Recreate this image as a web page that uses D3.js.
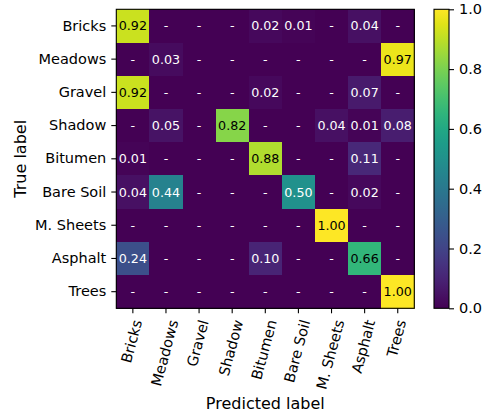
<!DOCTYPE html>
<html>
<head>
<meta charset="utf-8">
<script src="https://cdn.jsdelivr.net/npm/d3@7"></script>
<style>
  body { margin: 0; background: #fff; }
  svg text { font-family: "DejaVu Sans", sans-serif; }
</style>
</head>
<body>
<svg width="484" height="416"></svg>
<script>
// class names, same order on both axes
var classes = ["Bricks", "Meadows", "Gravel", "Shadow", "Bitumen", "Bare Soil", "M. Sheets", "Asphalt", "Trees"];

// one row per true label, columns are predicted labels
var rowBricks   = [0.92, 0, 0, 0, 0.02, 0.01, 0, 0.04, 0];
var rowMeadows  = [0, 0.03, 0, 0, 0, 0, 0, 0, 0.97];
var rowGravel   = [0.92, 0, 0, 0, 0.02, 0, 0, 0.07, 0];
var rowShadow   = [0, 0.05, 0, 0.82, 0, 0, 0.04, 0.01, 0.08];
var rowBitumen  = [0.01, 0, 0, 0, 0.88, 0, 0, 0.11, 0];
var rowBareSoil = [0.04, 0.44, 0, 0, 0, 0.50, 0, 0.02, 0];
var rowSheets   = [0, 0, 0, 0, 0, 0, 1.00, 0, 0];
var rowAsphalt  = [0.24, 0, 0, 0, 0.10, 0, 0, 0.66, 0];
var rowTrees    = [0, 0, 0, 0, 0, 0, 0, 0, 1.00];

var cbTicks = [0, 0.2, 0.4, 0.6, 0.8, 1.0];

var rows = [rowBricks, rowMeadows, rowGravel, rowShadow, rowBitumen, rowBareSoil, rowSheets, rowAsphalt, rowTrees];
var cells = [];
rows.forEach(function(r, i){
  r.forEach(function(v, j){ cells.push({t: classes[i], p: classes[j], v: v}); });
});

var svg = d3.select("svg");
var pL = 116.3, pR = 414.3, pT = 9.3, pB = 308.3;

var x = d3.scaleBand().domain(classes).range([pL, pR]);
var y = d3.scaleBand().domain(classes).range([pT, pB]);
var color = d3.scaleSequential(d3.interpolateViridis).domain([0, 1]);

svg.append("g").selectAll("rect")
  .data(cells)
  .enter()
  .append("rect")
  .attr("x", function(d){ return x(d.p); })
  .attr("y", function(d){ return y(d.t); })
  .attr("width", x.bandwidth() + 0.5)
  .attr("height", y.bandwidth() + 0.5)
  .attr("shape-rendering", "crispEdges")
  .attr("fill", function(d){ return color(d.v); });

svg.append("g").selectAll("text")
  .data(cells)
  .enter()
  .append("text")
  .attr("x", function(d){ return x(d.p) + x.bandwidth()/2; })
  .attr("y", function(d){ return y(d.t) + y.bandwidth()/2; })
  .attr("dy", "0.36em")
  .attr("text-anchor", "middle")
  .attr("font-size", "12.7px")
  .attr("fill", function(d){ return d.v > 0.5 ? "#000" : "#fff"; })
  .text(function(d){ return d.v == 0 ? "-" : d3.format(".2f")(d.v); });

svg.append("rect")
  .attr("x", pL).attr("y", pT)
  .attr("width", pR - pL).attr("height", pB - pT)
  .attr("fill", "none").attr("stroke", "#000").attr("stroke-width", 1.1);

// y axis
var ya = svg.append("g")
  .attr("transform", "translate(" + pL + ",0)")
  .call(d3.axisLeft(y).tickSize(5).tickPadding(5));
ya.select(".domain").remove();
ya.selectAll("line").attr("stroke-width", 1.1);
ya.selectAll("text").attr("font-size", "14.5px").attr("font-family", "DejaVu Sans");

// x axis with rotated labels, bbox centred under tick
var xa = svg.append("g")
  .attr("transform", "translate(0," + pB + ")")
  .call(d3.axisBottom(x).tickSize(5).tickPadding(5));
xa.select(".domain").remove();
xa.selectAll("line").attr("stroke-width", 1.1);
var ang = 75 * Math.PI / 180;
xa.selectAll("text")
  .attr("font-size", "14.5px")
  .attr("font-family", "DejaVu Sans")
  .attr("text-anchor", "middle")
  .attr("dy", "0.26em")
  .each(function(d){
    var w = this.getComputedTextLength();
    var h = 14.5 * 1.17;
    var bh = w * Math.sin(ang) + h * Math.cos(ang);
    d3.select(this)
      .attr("x", 0).attr("y", 0)
      .attr("transform", "translate(0," + (10 + bh/2) + ") rotate(-75)");
  });

svg.append("text")
  .attr("x", (pL + pR)/2).attr("y", 409)
  .attr("text-anchor", "middle").attr("font-size", "16px")
  .text("Predicted label");

svg.append("text")
  .attr("transform", "translate(26," + (pT + pB)/2 + ") rotate(-90)")
  .attr("text-anchor", "middle").attr("font-size", "16px")
  .text("True label");

// colorbar
var cbL = 434, cbW = 15;
var grad = svg.append("defs").append("linearGradient")
  .attr("id", "vir").attr("x1", 0).attr("y1", 1).attr("x2", 0).attr("y2", 0);
d3.range(0, 1.0001, 0.05).forEach(function(t){
  grad.append("stop").attr("offset", t).attr("stop-color", color(t));
});
svg.append("rect")
  .attr("x", cbL).attr("y", pT).attr("width", cbW).attr("height", pB - pT)
  .attr("fill", "url(#vir)").attr("stroke", "#000").attr("stroke-width", 1.1);

var cs = d3.scaleLinear().domain([0, 1]).range([pB, pT]);
var ca = svg.append("g")
  .attr("transform", "translate(" + (cbL + cbW) + ",0)")
  .call(d3.axisRight(cs).tickValues(cbTicks).tickFormat(d3.format(".1f")).tickSize(5).tickPadding(5));
ca.select(".domain").remove();
ca.selectAll("line").attr("stroke-width", 1.1);
ca.selectAll("text").attr("font-size", "14.5px").attr("font-family", "DejaVu Sans");
</script>
</body>
</html>
